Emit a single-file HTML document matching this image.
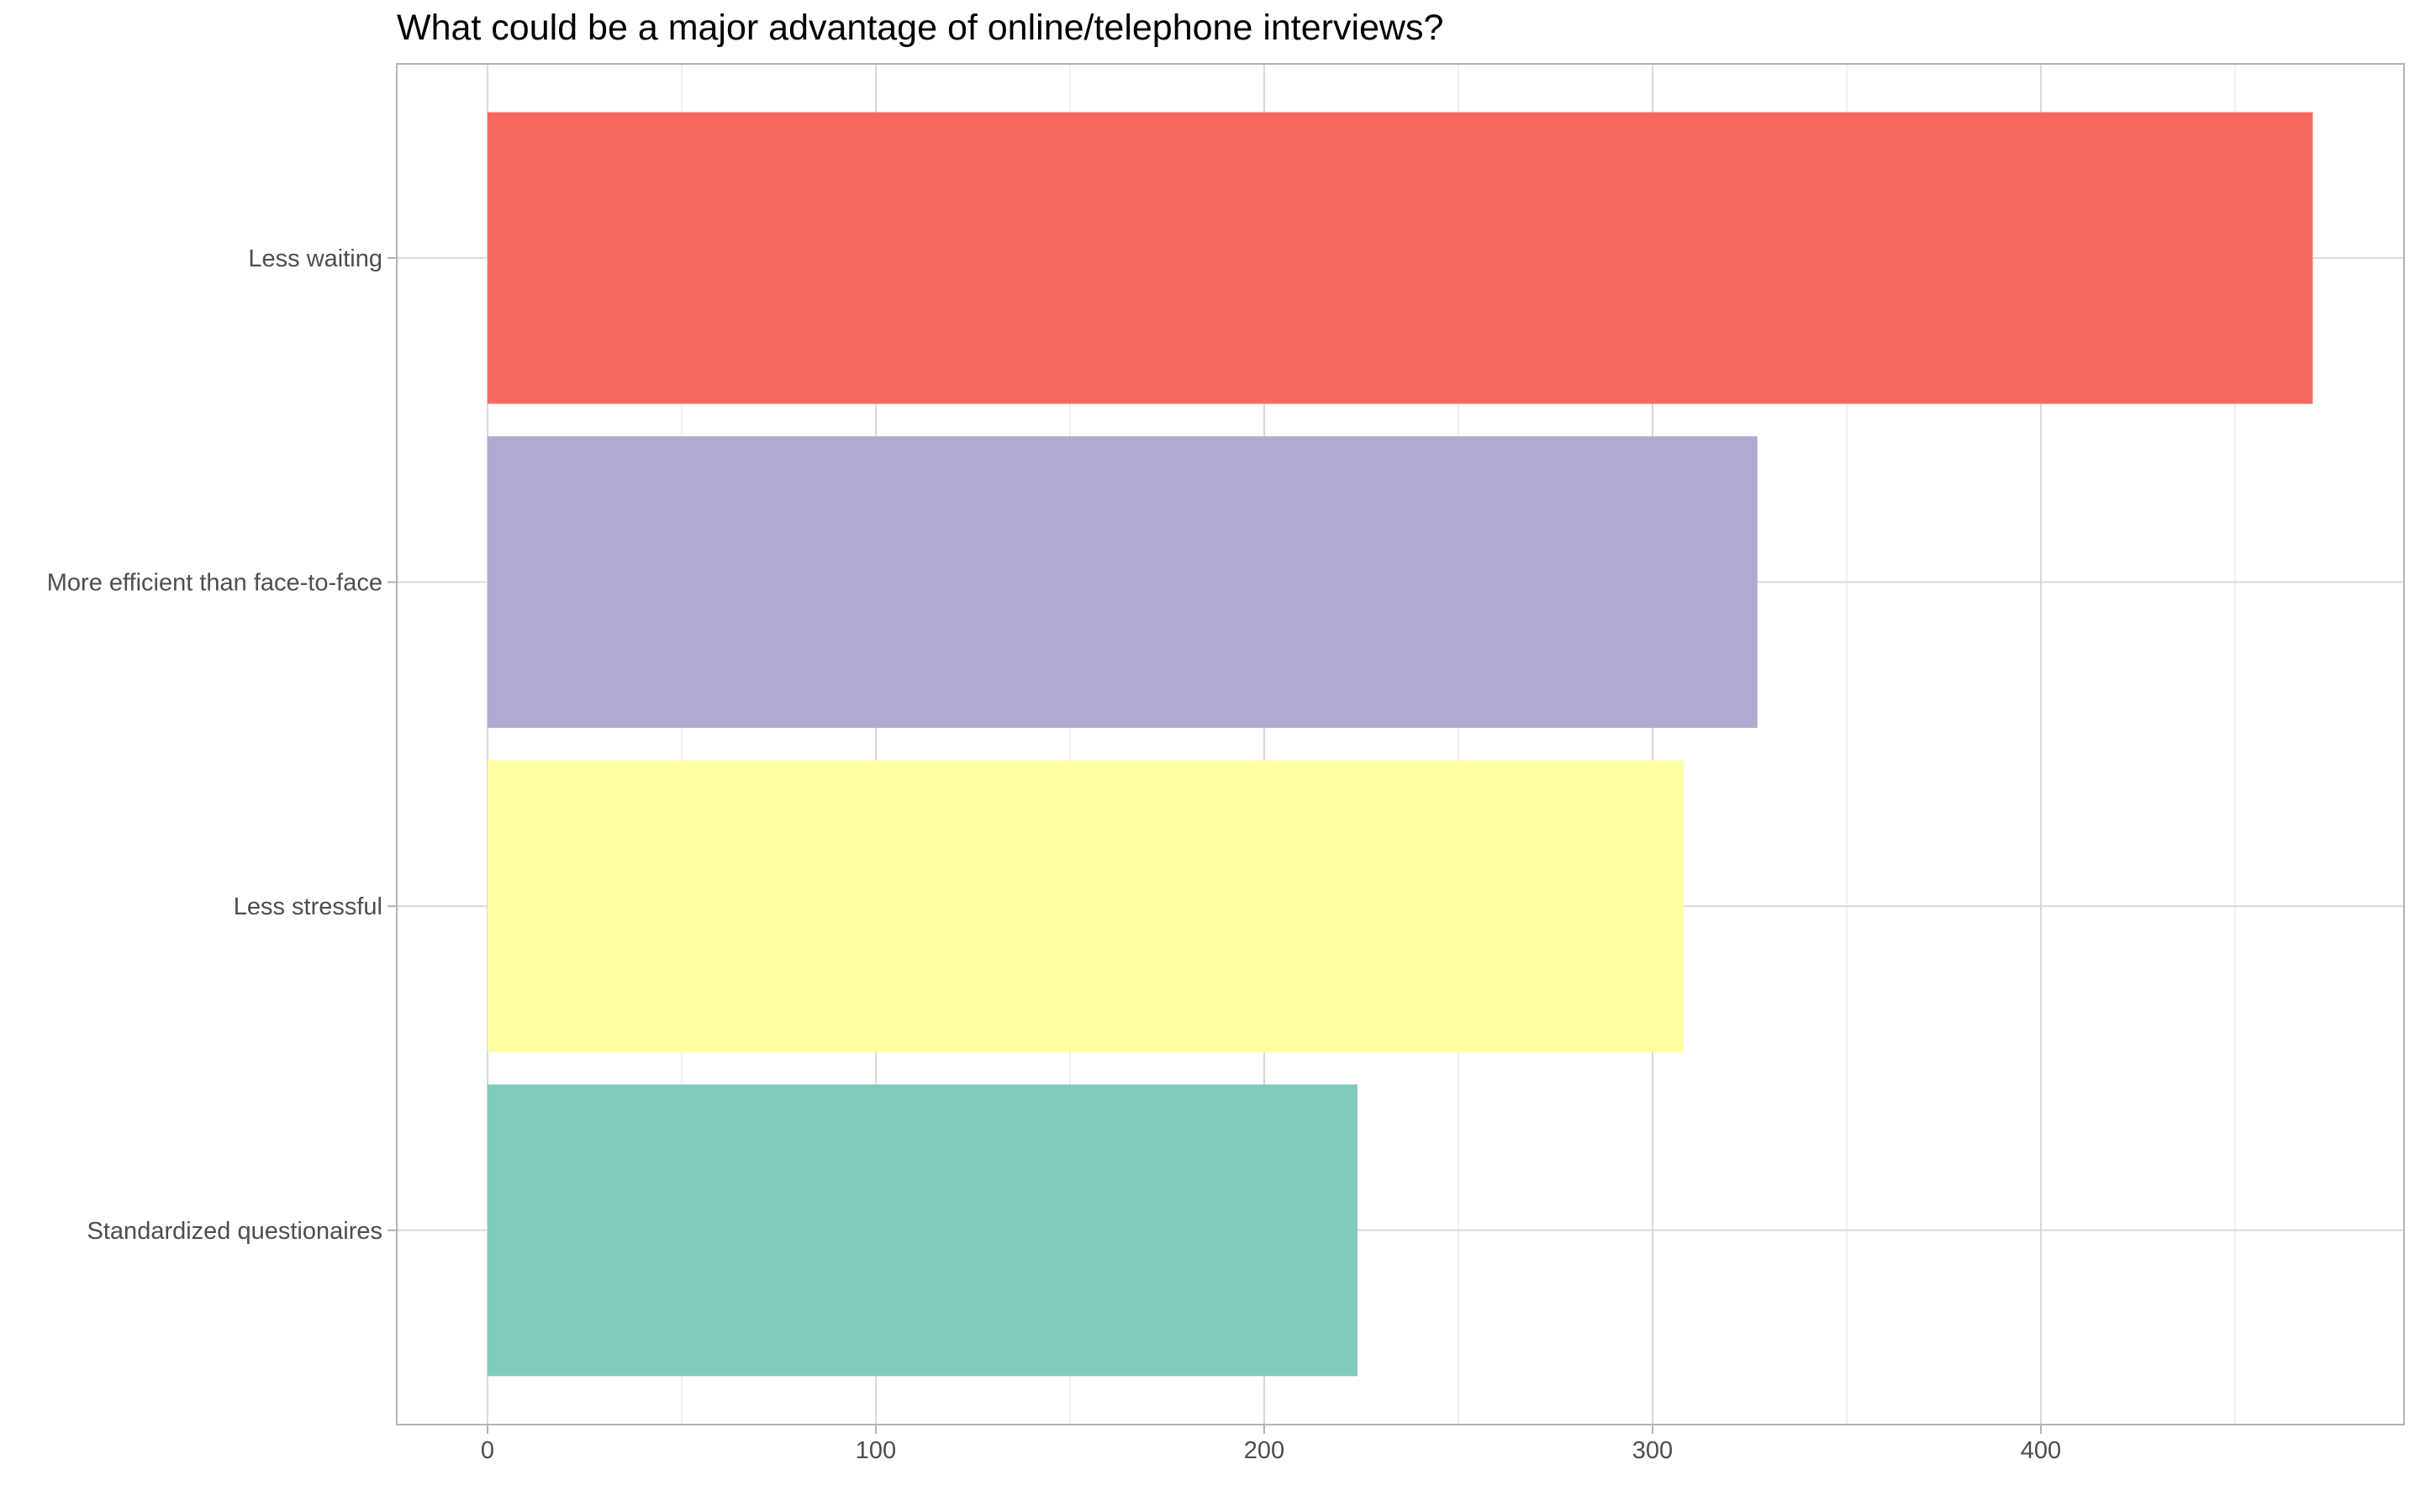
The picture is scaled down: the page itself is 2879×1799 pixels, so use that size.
<!DOCTYPE html>
<html><head><meta charset="utf-8"><style>
html,body{margin:0;padding:0;background:#fff;}
svg{display:block;font-family:"Liberation Sans",Arial,sans-serif;}
</style></head><body>
<svg id="chart" width="2879" height="1799" viewBox="0 0 2879 1799">
<text x="472" y="47" font-size="43" fill="#000">What could be a major advantage of online/telephone interviews?</text>
<g id="grid"></g>
<g id="bars"></g>
<rect x="472" y="76" width="2388" height="1619" fill="none" stroke="#b3b3b3" stroke-width="2"/>
<g id="axes"></g>
</svg>
<script>
const categories = ["Less waiting","More efficient than face-to-face","Less stressful","Standardized questionaires"];
const values = [470, 327, 308, 224];
const colors = ["#F6695F","#B0AAD0","#FFFFA0","#7ECBBB"];
const xTicks = [0,100,200,300,400];
const xMinor = [50,150,250,350,450];

const NS="http://www.w3.org/2000/svg";
const x0=580, pxPer=4.62, plotTop=76, plotBottom=1695, plotLeft=472, plotRight=2860;
const y0=307, step=385.6, bh=347;
function xs(v){return x0+v*pxPer;}
function ys(i){return y0+i*step;}
function mk(tag,attrs,parent){const e=document.createElementNS(NS,tag);for(const k in attrs)e.setAttribute(k,attrs[k]);parent.appendChild(e);return e;}
const grid=document.getElementById('grid'),bars=document.getElementById('bars'),axes=document.getElementById('axes');
xMinor.forEach(v=>{const l=mk('line',{x1:xs(v),x2:xs(v),y1:plotTop,y2:plotBottom,stroke:'#ececec','stroke-width':1.5},grid);

});
xTicks.forEach(v=>{const l=mk('line',{x1:xs(v),x2:xs(v),y1:plotTop,y2:plotBottom,stroke:'#d9d9d9','stroke-width':2},grid);


const t=mk('line',{x1:xs(v),x2:xs(v),y1:plotBottom,y2:plotBottom+11,stroke:'#b3b3b3','stroke-width':2},axes);


const tx=mk('text',{x:xs(v),y:plotBottom+40,'font-size':29,fill:'#4d4d4d','text-anchor':'middle'},axes);tx.textContent=v;

});
categories.forEach((c,i)=>{const y=ys(i);
const g=mk('line',{x1:plotLeft,x2:plotRight,y1:y,y2:y,stroke:'#d9d9d9','stroke-width':2},grid);


const r=mk('rect',{x:xs(0),y:y-bh/2,width:xs(values[i])-xs(0),height:bh,fill:colors[i]},bars);


const t=mk('line',{x1:plotLeft-11,x2:plotLeft,y1:y,y2:y,stroke:'#b3b3b3','stroke-width':2},axes);


const tx=mk('text',{x:plotLeft-17,y:y+10,'font-size':29,fill:'#4d4d4d','text-anchor':'end'},axes);tx.textContent=c;

});
</script>
</body></html>
